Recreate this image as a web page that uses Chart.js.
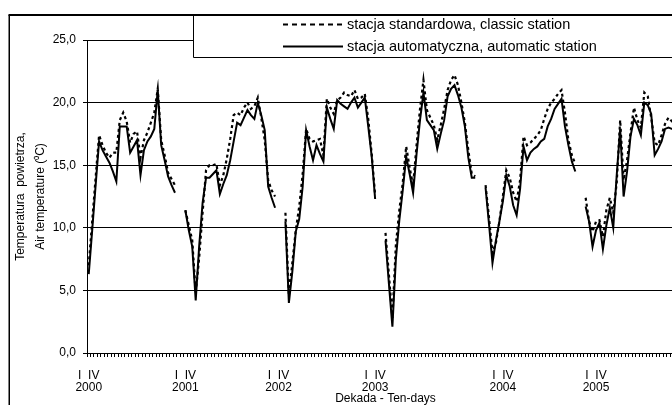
<!DOCTYPE html>
<html>
<head>
<meta charset="utf-8">
<script src="https://cdn.jsdelivr.net/npm/chart.js@4/dist/chart.umd.min.js"></script>
<style>
  html, body { margin: 0; padding: 0; background: #fff; overflow: hidden; }
  #wrap { width: 700px; height: 420px; }
</style>
</head>
<body>
<div id="wrap"><canvas id="myChart" width="700" height="420"></canvas></div>
<script>
// ten-day mean air temperature, one block per year (gaps between blocks stay empty)
const years = ['2000', '2001', '2002', '2003', '2004', '2005'];
const yearTickAt = [0, 28, 55, 83, 120, 147];
const tickMonths = 'I  IV';

const classic2000 = [7.0, 10.5, 14.0, 17.4, 16.6, 16.0, 15.6, 16.0, 16.0, 18.6, 19.2, 18.5, 16.8, 17.5, 17.7, 15.6, 17.0, 17.6, 18.4, 19.2, 21.1, 17.0, 15.8, 14.4, 13.9, 13.4];
const auto2000    = [6.3, 9.8, 13.4, 16.9, 16.2, 15.7, 15.2, 14.5, 13.7, 18.1, 18.1, 18.1, 16.0, 16.5, 17.0, 14.2, 16.2, 16.9, 17.3, 17.9, 21.0, 16.6, 15.4, 14.1, 13.4, 12.8];

const classic2001 = [11.4, 10.2, 9.0, 4.8, 7.6, 11.2, 14.6, 15.0, 15.0, 15.1, 13.4, 14.2, 15.5, 17.1, 19.0, 19.2, 19.0, 19.6, 20.0, 19.5, 19.7, 20.4, 18.8, 17.0, 13.8, 13.0, 12.5];
const auto2001    = [11.4, 9.8, 8.5, 4.2, 8.5, 12.0, 14.0, 14.0, 14.3, 14.6, 12.7, 13.5, 14.2, 15.4, 16.9, 18.4, 18.2, 18.8, 19.4, 19.0, 18.7, 20.0, 19.0, 17.8, 13.3, 12.4, 11.6];

const classic2002 = [11.2, 4.6, 7.2, 9.8, 11.7, 14.3, 17.9, 17.1, 16.9, 17.0, 17.1, 15.8, 20.3, 19.6, 19.1, 20.2, 20.4, 20.8, 20.6, 20.5, 21.0, 20.3, 20.4, 20.7, 18.7, 15.9, 12.6];
const auto2002    = [10.5, 4.0, 6.5, 9.7, 10.7, 13.3, 17.8, 16.5, 15.4, 16.6, 15.9, 15.3, 19.6, 18.7, 17.9, 20.2, 19.9, 19.7, 19.5, 20.0, 20.4, 19.6, 20.0, 20.4, 18.1, 15.7, 12.3];

const classic2003 = [9.6, 6.2, 2.8, 8.6, 11.4, 13.6, 16.5, 14.8, 13.4, 16.6, 19.5, 21.8, 19.4, 18.8, 18.2, 17.0, 18.2, 19.5, 21.0, 21.8, 22.2, 21.4, 20.0, 18.4, 16.2, 14.3, 14.1];
const auto2003    = [9.0, 5.5, 2.1, 7.5, 10.6, 13.0, 15.7, 14.3, 12.8, 15.9, 18.6, 20.8, 18.6, 18.2, 17.8, 16.3, 17.5, 18.6, 20.5, 21.1, 21.4, 20.6, 19.6, 18.1, 15.6, 14.0, 14.0];

const classic2004 = [13.4, 10.8, 8.0, 8.8, 10.5, 12.5, 14.6, 14.0, 12.8, 12.1, 13.8, 17.3, 16.6, 16.8, 17.1, 17.4, 17.8, 18.7, 19.5, 20.0, 20.3, 20.7, 21.0, 19.2, 17.0, 15.8, 15.1];
const auto2004    = [13.2, 10.3, 7.2, 9.0, 10.5, 12.1, 14.2, 13.3, 11.8, 11.0, 13.1, 16.5, 15.4, 16.0, 16.3, 16.5, 16.9, 17.1, 18.1, 18.7, 19.5, 19.9, 20.3, 18.1, 16.6, 15.3, 14.5];

const classic2005 = [12.4, 10.5, 9.7, 10.5, 10.6, 9.3, 11.4, 12.4, 11.2, 13.6, 18.6, 13.8, 15.4, 17.6, 19.6, 18.6, 18.0, 20.8, 20.5, 18.8, 16.8, 16.6, 17.4, 18.3, 18.8, 18.5, 18.2];
const auto2005    = [11.7, 10.5, 8.5, 9.8, 10.4, 8.3, 10.2, 11.6, 10.0, 14.2, 17.9, 12.5, 14.5, 17.3, 18.7, 18.2, 17.4, 20.0, 19.8, 19.1, 15.8, 16.3, 16.9, 17.9, 18.0, 17.9, 17.8];

const yTicks = [0, 5, 10, 15, 20, 25];

// join the yearly blocks, two empty decades after each one
const joinYears = blocks => blocks.flatMap(b => [...b, null, null]);
const classic = joinYears([classic2000, classic2001, classic2002, classic2003, classic2004, classic2005]);
const automatic = joinYears([auto2000, auto2001, auto2002, auto2003, auto2004, auto2005]);

const labels = classic.map(() => '');
yearTickAt.forEach((idx, i) => { labels[idx] = [tickMonths, years[i]]; });

const FONT = 'Arial, "Liberation Sans", sans-serif';

// outer frame + boxed legend like the original sheet
const framePlugin = {
  id: 'frame',
  beforeDraw(chart) {
    const ctx = chart.ctx;
    ctx.save();
    ctx.fillStyle = '#fff';
    ctx.fillRect(0, 0, chart.width, chart.height);
    ctx.strokeStyle = '#000';
    ctx.lineWidth = 1.5;
    ctx.beginPath();
    ctx.moveTo(9.25, 15);
    ctx.lineTo(9.25, chart.height);
    ctx.stroke();
    ctx.restore();
  },
  afterDraw(chart) {
    const ctx = chart.ctx;
    ctx.save();
    ctx.fillStyle = '#fff';
    ctx.fillRect(193, 15, chart.width, 42);
    ctx.strokeStyle = '#000';
    ctx.lineWidth = 1;
    ctx.beginPath();
    ctx.moveTo(193.5, 15);
    ctx.lineTo(193.5, 57.5);
    ctx.lineTo(chart.width, 57.5);
    ctx.stroke();
    ctx.lineWidth = 2;
    ctx.beginPath();
    ctx.moveTo(8.5, 15);
    ctx.lineTo(chart.width, 15);
    ctx.stroke();

    ctx.font = '14.5px ' + FONT;
    ctx.fillStyle = '#000';
    ctx.textBaseline = 'middle';
    chart.data.datasets.forEach((ds, i) => {
      const y = 24.5 + i * 22;
      ctx.lineWidth = 2;
      ctx.setLineDash(ds.borderDash && ds.borderDash.length ? [5, 4] : []);
      ctx.beginPath();
      ctx.moveTo(283, y);
      ctx.lineTo(343, y);
      ctx.stroke();
      ctx.setLineDash([]);
      ctx.fillText(ds.label, 347, y + 0.5);
    });
    ctx.restore();
  }
};

new Chart(document.getElementById('myChart'), {
  type: 'line',
  data: {
    labels: labels,
    datasets: [
      {
        label: 'stacja standardowa, classic station',
        data: classic,
        borderColor: '#000',
        borderWidth: 2.2,
        borderDash: [3, 3],
        pointRadius: 0,
        tension: 0,
        spanGaps: false,
        order: 1
      },
      {
        label: 'stacja automatyczna, automatic station',
        data: automatic,
        borderColor: '#000',
        borderWidth: 2,
        pointRadius: 0,
        tension: 0,
        spanGaps: false,
        order: 0
      }
    ]
  },
  options: {
    responsive: false,
    animation: false,
    layout: { padding: { left: 10, top: 40, right: 16, bottom: 15 } },
    plugins: {
      legend: { display: false },
      tooltip: { enabled: false }
    },
    scales: {
      x: {
        type: 'category',
        offset: true,
        grid: { offset: true, drawOnChartArea: false, tickLength: 4, color: '#000' },
        border: { color: '#000', width: 1 },
        ticks: {
          autoSkip: false, maxRotation: 0, minRotation: 0, padding: 12,
          color: '#000', font: { family: FONT, size: 12, lineHeight: 1.05 }
        },
        title: {
          display: true, text: 'Dekada - Ten-days', color: '#000', padding: 0,
          font: { family: FONT, size: 12, lineHeight: 1 }
        },
        afterFit(scale) { scale.height = 52; }
      },
      y: {
        min: 0,
        max: 25,
        afterBuildTicks(scale) { scale.ticks = yTicks.map(v => ({ value: v })); },
        grid: { color: '#000', tickLength: 4, tickColor: '#000' },
        border: { color: '#000', width: 1 },
        ticks: {
          padding: 7, color: '#000', font: { family: FONT, size: 12 },
          callback: v => v.toFixed(1).replace('.', ',')
        },
        title: {
          display: true,
          text: ['Temperatura  powietrza,', 'Air temperature (\u2070C)'],
          color: '#000', padding: 0,
          font: { family: FONT, size: 12, lineHeight: 1.7 }
        },
        afterFit(scale) { scale.width = 77; }
      }
    }
  },
  plugins: [framePlugin]
});
</script>
</body>
</html>
